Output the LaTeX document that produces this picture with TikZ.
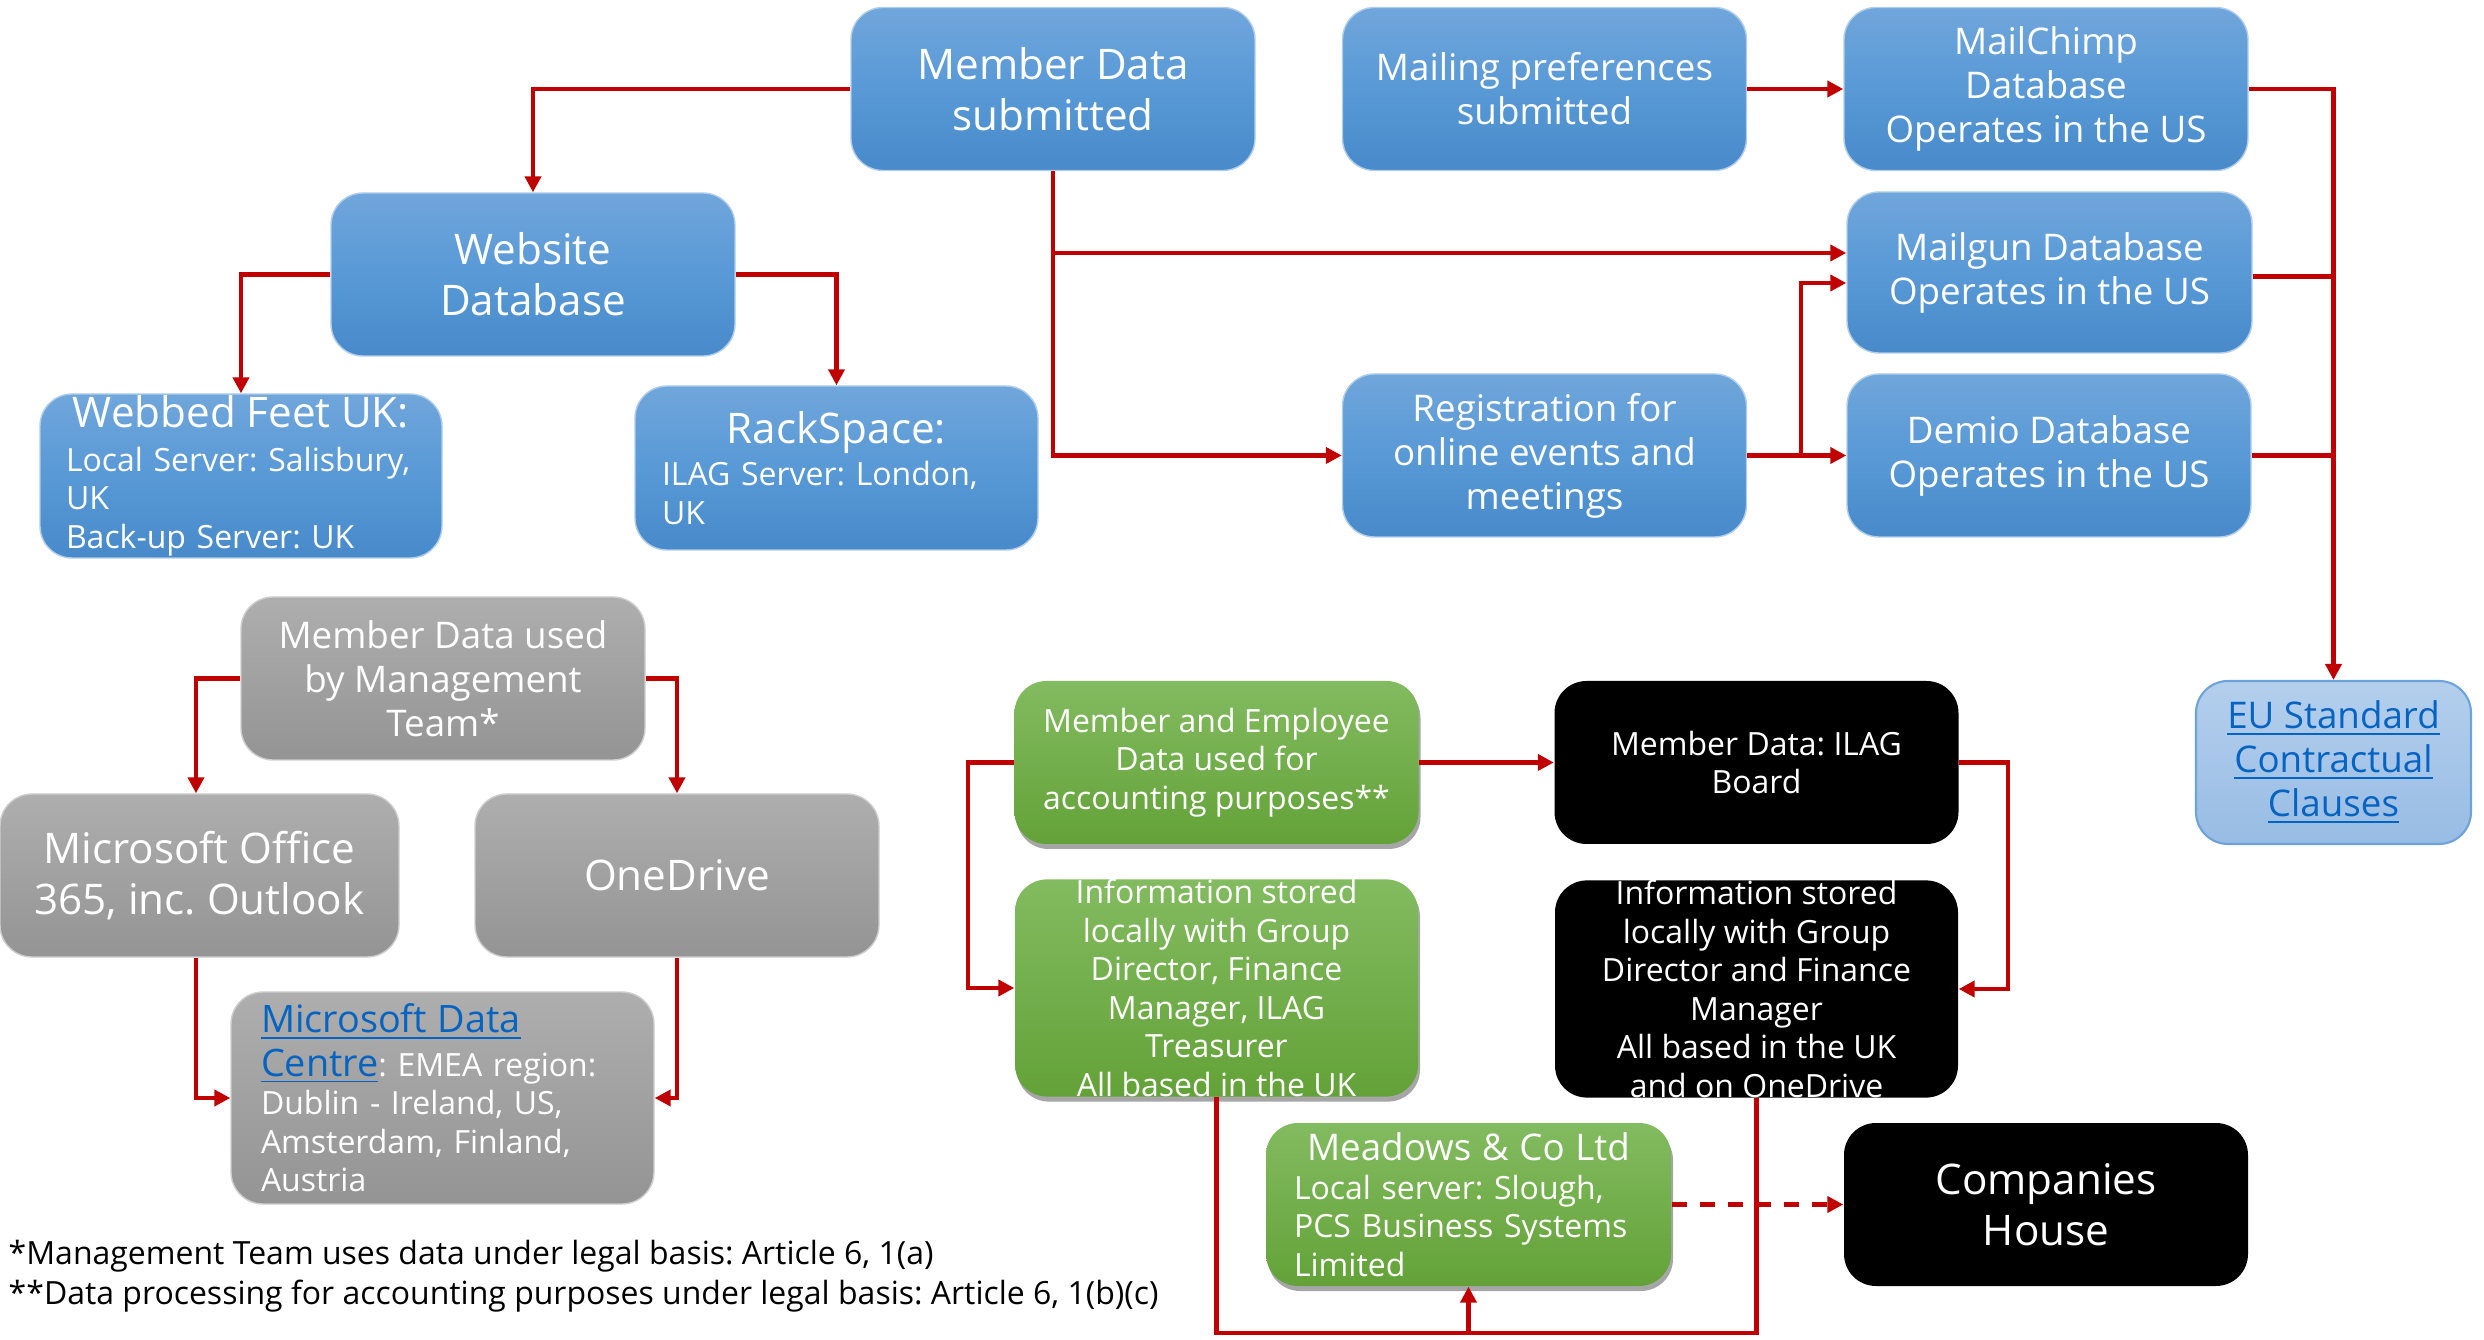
\documentclass[tikz,border=0pt]{standalone}
\usepackage{fontspec}
\setmainfont{Open Sans}
\usetikzlibrary{arrows.meta,shadows}
\definecolor{cnred}{HTML}{C00000}
\definecolor{blueT}{RGB}{112,166,219}
\definecolor{blueM}{RGB}{88,153,214}
\definecolor{blueB}{RGB}{72,138,202}
\definecolor{grayT}{RGB}{174,174,174}
\definecolor{grayB}{RGB}{148,148,148}
\definecolor{greenT}{RGB}{131,187,96}
\definecolor{greenB}{RGB}{99,162,56}
\definecolor{euT}{RGB}{180,207,237}
\definecolor{euB}{RGB}{152,188,228}
\definecolor{euD}{RGB}{108,163,218}
\definecolor{linkc}{HTML}{0563C1}
\newcommand\fL{\fontsize{12}{14.5}\selectfont}
\newcommand\fM{\fontsize{10.45}{12.5}\selectfont}
\newcommand\fS{\fontsize{9.1}{10.95}\selectfont}
\newcommand\fK{\fontsize{10.75}{13.2}\selectfont}
\newcommand\ctr[1]{\makebox[\linewidth][c]{#1}}
\tikzset{
  base/.style={rounded corners=0.32cm, inner sep=0pt, text=white, align=center,
    minimum width=4.04cm, minimum height=1.63cm},
  sz/.style 2 args={minimum width=#1cm, minimum height=#2cm},
  bluebox/.style={base, top color=blueT, bottom color=blueB, middle color=blueM,
    draw=blueT!55!white, line width=0.4pt},
  graybox/.style={base, top color=grayT, bottom color=grayB,
    draw=grayT!60!white, line width=0.4pt},
  greenbox/.style={base, top color=greenT, bottom color=greenB,
    drop shadow={shadow xshift=0.02cm, shadow yshift=-0.05cm, opacity=0.35, fill=black}},
  blackbox/.style={base, fill=black},
  eubox/.style={base, top color=euT, bottom color=euB, draw=euD, line width=0.6pt, text=linkc},
  cn/.style={draw=cnred, line width=0.043cm, -{Triangle[length=0.16cm,width=0.16cm]}},
  cnl/.style={draw=cnred, line width=0.043cm},
  foot/.style={anchor=west, inner sep=0pt, font=\fS, text=black},
  every node/.append style={execute at begin node=\frenchspacing}
}
\begin{document}
\frenchspacing
\begin{tikzpicture}
\useasboundingbox (0,0) rectangle (24.84,-13.4);
% top row
\node[bluebox, font=\fL] (mds) at (10.53,-0.89) {Member Data\\submitted};
\node[bluebox, font=\fM] (mps) at (15.445,-0.89) {Mailing preferences\\submitted};
\node[bluebox, font=\fM] (chimp) at (20.46,-0.89) {MailChimp\\Database\\Operates in the US};
\node[bluebox, font=\fM, sz={4.05}{1.61}] (mailgun) at (20.495,-2.725) {Mailgun Database\\Operates in the US};
\node[bluebox, font=\fM] (demio) at (20.49,-4.555) {Demio Database\\Operates in the US};
\node[bluebox, font=\fM] (reg) at (15.445,-4.555) {Registration for\\online events and\\meetings};
\node[bluebox, font=\fL] (web) at (5.33,-2.745) {Website\\Database};
\node[bluebox, font=\fS, sz={4.02}{1.64}, text width=3.5cm, align=left] (webbed) at (2.41,-4.76)
  {\ctr{\fL Webbed Feet UK:}\\[0.05cm]Local Server: Salisbury,\\UK\\Back-up Server: UK};
\node[bluebox, font=\fS, sz={4.03}{1.64}, text width=3.49cm, align=left] (rack) at (8.365,-4.68)
  {\ctr{\fL RackSpace:}\\[0.04cm]ILAG Server: London,\\UK};
% gray group
\node[graybox, font=\fM] (mgmt) at (4.43,-6.785) {Member Data used\\by Management\\Team*};
\node[graybox, font=\fL, sz={3.99}{1.63}] (office) at (1.995,-8.755) {Microsoft Office\\365, inc. Outlook};
\node[graybox, font=\fL] (onedrive) at (6.77,-8.755) {OneDrive};
\node[graybox, font=\fS, sz={4.23}{2.12}, text width=3.63cm, align=left] (msdc) at (4.425,-10.98)
  {{\fK\color{linkc}\underline{Microsoft Data}}\\[0.05cm]{\fK\color{linkc}\underline{Centre}}: EMEA region:\\Dublin - Ireland, US,\\Amsterdam, Finland,\\Austria};
% accounting group
\node[greenbox, font=\fS] (acct) at (12.165,-7.625) {Member and Employee\\Data used for\\accounting purposes**};
\node[greenbox, font=\fS, sz={4.03}{2.14}] (ginfo) at (12.165,-9.88)
  {Information stored\\locally with Group\\Director, Finance\\Manager, ILAG\\Treasurer\\All based in the UK};
\node[blackbox, font=\fS] (board) at (17.565,-7.625) {Member Data: ILAG\\Board};
\node[blackbox, font=\fS, sz={4.03}{2.14}] (binfo) at (17.565,-9.89)
  {Information stored\\locally with Group\\Director and Finance\\Manager\\All based in the UK\\and on OneDrive};
\node[greenbox, font=\fS, sz={4.05}{1.63}, text width=3.49cm, align=left] (meadows) at (14.685,-12.045)
  {\ctr{\fM Meadows \& Co Ltd}\\Local server: Slough,\\PCS Business Systems\\Limited};
\node[blackbox, font=\fL] (ch) at (20.46,-12.045) {Companies\\House};
\node[eubox, font=\fM, sz={2.75}{1.63}] (eu) at (23.335,-7.625)
  {\underline{EU Standard}\\\underline{Contractual}\\\underline{Clauses}};
% footnotes
\node[foot] (fn1) at (0.08,-12.56) {*Management Team uses data under legal basis: Article 6, 1(a)};
\node[foot] (fn2) at (0.08,-12.96) {**Data processing for accounting purposes under legal basis: Article 6, 1(b)(c)};
% connectors
\draw[cn] (mds.west) -| (web.north);
\draw[cn] (mds.south) |- (reg.west);
\draw[cn] (mds.south) |- ([yshift=0.195cm]mailgun.west);
\draw[cn] (mps.east) -- (chimp.west);
\draw[cn] (reg.east) -- (demio.west);
\draw[cn] ([xshift=0.54cm]reg.east) |- ([yshift=-0.105cm]mailgun.west);
\draw[cn] (chimp.east) -| (eu.north);
\draw[cnl] ([yshift=-0.04cm]mailgun.east) -- ([yshift=-0.04cm]mailgun.east -| eu.north);
\draw[cnl] (demio.east) -- (demio.east -| eu.north);
\draw[cn] (web.west) -| (webbed.north);
\draw[cn] (web.east) -| (rack.north);
\draw[cn] (mgmt.west) -| ([xshift=-0.035cm]office.north);
\draw[cn] (mgmt.east) -| (onedrive.north);
\draw[cn] ([xshift=-0.035cm]office.south) |- (msdc.west);
\draw[cn] (onedrive.south) |- (msdc.east);
\draw[cn] (acct.west) -- ++(-0.46,0) |- (ginfo.west);
\draw[cn] (acct.east) -- (board.west);
\draw[cn] (board.east) -- ++(0.49,0) |- (binfo.east);
\coordinate (bot) at (14.685,-13.33);
\draw[cnl] (ginfo.south) |- (bot);
\draw[cnl] (binfo.south) |- (bot);
\draw[cn] (bot) -- (meadows.south);
\draw[cn, dash pattern=on 0.15cm off 0.13cm] (meadows.east) -- (ch.west);
\end{tikzpicture}
\end{document}
